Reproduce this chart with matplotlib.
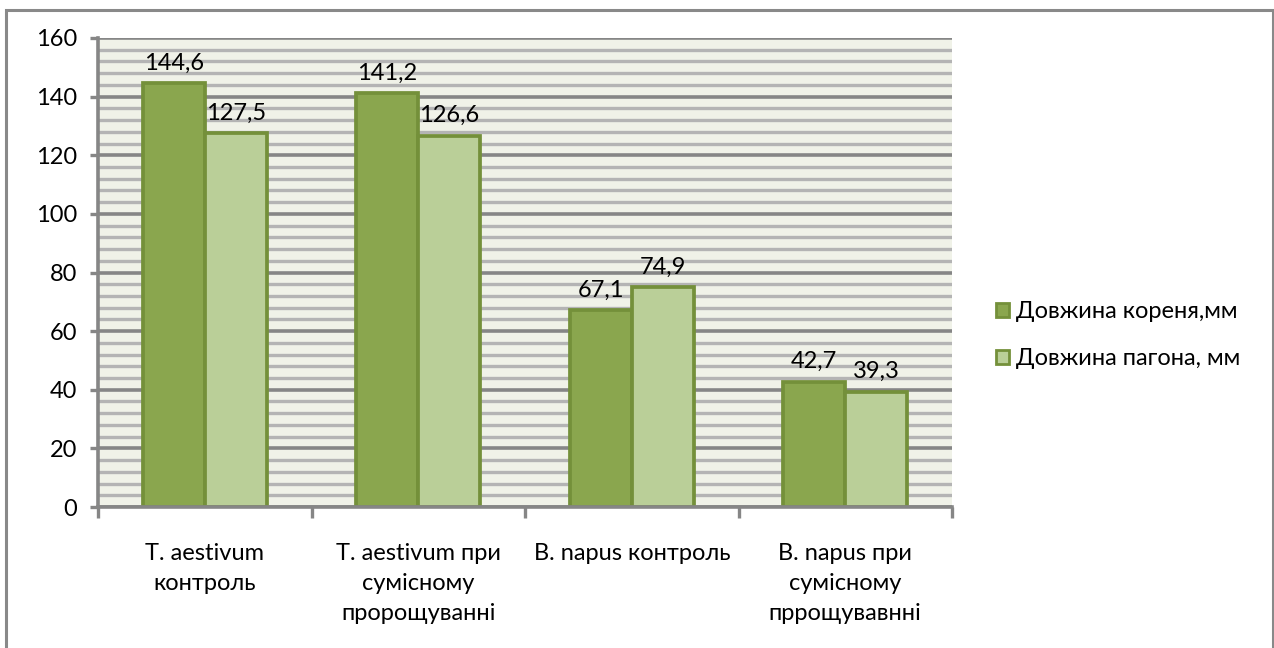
import matplotlib
matplotlib.use("Agg")
import matplotlib.pyplot as plt
import numpy as np
from matplotlib.patches import Patch, Rectangle
from matplotlib.ticker import MultipleLocator

categories = ["T. aestivum\nконтроль", "T. aestivum при\nсумісному\nпророщуванні",
              "B. napus контроль", "B. napus при\nсумісному\nпррощувавнні"]
root_len = [144.6, 141.2, 67.1, 42.7]
shoot_len = [127.5, 126.6, 74.9, 39.3]
series_names = ["Довжина кореня,мм", "Довжина пагона, мм"]
yticks = [0, 20, 40, 60, 80, 100, 120, 140, 160]

plt.rcParams['font.family'] = ['Lato', 'DejaVu Sans']

fig = plt.figure(figsize=(12.74, 6.48), dpi=100)
# outer border
fig.patches.append(Rectangle((6/1274, -0.01), (1273-6)/1274, 1 - 10/648 + 0.01,
                             transform=fig.transFigure, fill=False,
                             edgecolor='#898989', linewidth=2.2, zorder=0))

ax = fig.add_axes([98/1274, (648-507)/648, (952-98)/1274, (507-38)/648])
ax.set_facecolor('#f0f2e8')

x = np.arange(len(categories))
w = 0.29
dark = '#8aa64e'
light = '#bacf98'
edge = '#74903a'
b1 = ax.bar(x - w/2, root_len, w, color=dark, edgecolor=edge, linewidth=2.7, zorder=3)
b2 = ax.bar(x + w/2, shoot_len, w, color=light, edgecolor=edge, linewidth=2.7, zorder=3)

fs = 17
for bars, vals in ((b1, root_len), (b2, shoot_len)):
    for r, v in zip(bars, vals):
        ax.annotate(f"{v:.1f}".replace('.', ','), (r.get_x() + r.get_width()/2, v),
                    xytext=(0, 7), textcoords='offset points', ha='center', va='bottom',
                    fontsize=fs, color='black', zorder=5)

ax.set_xlim(-0.5, len(categories) - 0.5)
ax.set_ylim(0, 160)
ax.set_yticks(yticks)
ax.yaxis.set_minor_locator(MultipleLocator(4))
ax.grid(axis='y', which='major', color='#868686', linewidth=2.6, zorder=1)
ax.grid(axis='y', which='minor', color='#b4b4b4', linewidth=2.4, zorder=1)
ax.tick_params(axis='y', which='minor', length=0)
ax.tick_params(axis='y', which='major', length=6, width=2.4, color='#868686',
               labelsize=fs, pad=9)

ax.set_xticks(np.arange(-0.5, len(categories)), minor=False)
ax.set_xticklabels([])
ax.set_xticks(x, minor=True)
ax.set_xticklabels(categories, minor=True, fontsize=fs, linespacing=1.52, va='top')
ax.tick_params(axis='x', which='major', length=8, width=2.4, color='#868686', direction='out')
ax.tick_params(axis='x', which='minor', length=0, pad=26)

for s in ('top', 'right'):
    ax.spines[s].set_visible(False)
for s in ('left', 'bottom'):
    ax.spines[s].set_color('#868686')
    ax.spines[s].set_linewidth(2.6)
    ax.spines[s].set_zorder(4)

handles = [Patch(facecolor=dark, edgecolor=edge, linewidth=2.0),
           Patch(facecolor=light, edgecolor=edge, linewidth=2.0)]
leg = fig.legend(handles, series_names, loc='center left',
                 bbox_to_anchor=(975/1274, 1 - 335/648), frameon=False,
                 fontsize=fs, handlelength=0.55, handleheight=0.55,
                 handletextpad=0.3, labelspacing=1.1)

fig.savefig('out.png', dpi=100)
